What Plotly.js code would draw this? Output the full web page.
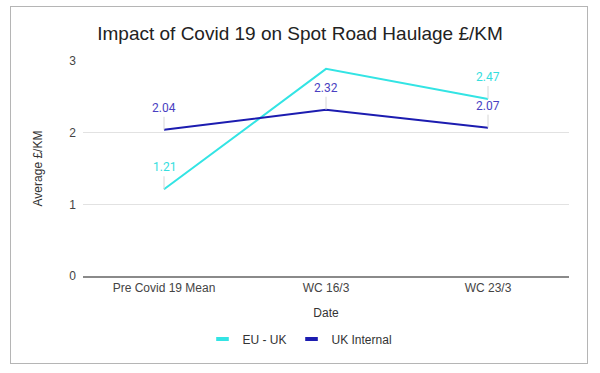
<!DOCTYPE html>
<html>
<head>
<meta charset="utf-8">
<script src="https://cdn.plot.ly/plotly-3.0.1.min.js"></script>
<style>
html,body{margin:0;padding:0;background:#fff;}
#wrap{position:relative;width:600px;height:373px;}
#chart{width:600px;height:373px;}
#frame{position:absolute;left:10px;top:6px;width:576px;height:356px;border:1px solid #b5b5b5;pointer-events:none;}
</style>
</head>
<body>
<div id="wrap"><div id="chart"></div><div id="frame"></div></div>
<script>
const categories = ['Pre Covid 19 Mean', 'WC 16/3', 'WC 23/3'];
const euUk = [1.21, 2.89, 2.47];
const euUkLabels = ['1.21', '', '2.47'];
const ukInternal = [2.04, 2.32, 2.07];
const ukInternalLabels = ['2.04', '2.32', '2.07'];
const seriesNames = ['EU - UK', 'UK Internal'];
const yTicks = [0, 1, 2, 3];

const cyan = '#33e4e4';
const navy = '#1c1cb0';

const traces = [
  {x: categories, y: euUk, name: seriesNames[0], type: 'scatter', mode: 'lines',
   line: {color: cyan, width: 2}, showlegend: false},
  {x: categories, y: ukInternal, name: seriesNames[1], type: 'scatter', mode: 'lines',
   line: {color: navy, width: 2}, showlegend: false},
  // legend-only entries with short thick swatches
  {x: [null], y: [null], name: seriesNames[0], type: 'scatter', mode: 'markers',
   marker: {symbol: 'line-ew', size: 9, color: cyan, line: {color: cyan, width: 4}}},
  {x: [null], y: [null], name: seriesNames[1], type: 'scatter', mode: 'markers',
   marker: {symbol: 'line-ew', size: 9, color: navy, line: {color: navy, width: 4}}}
];

function labelAnns(ys, labels, color) {
  const out = [];
  ys.forEach((v, i) => {
    if (!labels[i]) return;
    out.push({
      x: categories[i], y: v, xref: 'x', yref: 'y',
      text: labels[i],
      showarrow: true, arrowhead: 0, arrowwidth: 1, arrowcolor: '#d6d6d6',
      ax: 0, ay: -13, standoff: 0, yanchor: 'bottom',
      font: {family: 'Roboto, Arial, sans-serif', size: 12, color: color}
    });
  });
  return out;
}

const annotations = [].concat(
  labelAnns(euUk, euUkLabels, '#36dede'),
  labelAnns(ukInternal, ukInternalLabels, '#4a3fc2')
);

const layout = {
  width: 600, height: 373,
  margin: {l: 83, r: 31, t: 61, b: 97},
  paper_bgcolor: '#ffffff', plot_bgcolor: '#ffffff',
  font: {family: 'Arial, "Liberation Sans", sans-serif', size: 12, color: '#444'},
  title: {text: 'Impact of Covid 19 on Spot Road Haulage £/KM',
          font: {family: 'Arial, "Liberation Sans", sans-serif', size: 19, color: '#222'},
          x: 0.5, xref: 'container', xanchor: 'center',
          y: 1 - 33/373, yref: 'container', yanchor: 'middle'},
  xaxis: {type: 'category', range: [-0.5, 2.5], showgrid: false, zeroline: false,
          showline: true, linecolor: '#8a8a8a', linewidth: 1.5,
          ticks: '', tickfont: {size: 12, color: '#444'},
          title: {text: 'Date', font: {size: 12, color: '#333'}, standoff: 14}},
  yaxis: {range: [0, 3], tickvals: yTicks, ticktext: yTicks.map(String),
          showgrid: true, gridcolor: '#e2e2e2', gridwidth: 1, zeroline: false,
          showline: false, ticks: '', ticklabelstandoff: 6, tickfont: {size: 12, color: '#444'},
          title: {text: 'Average £/KM', font: {size: 12, color: '#333'}, standoff: 24}},
  showlegend: true,
  legend: {orientation: 'h', xref: 'container', yref: 'container', x: 0.5, xanchor: 'center',
           y: (373 - 339) / 373, yanchor: 'middle', font: {size: 12, color: '#333'},
           itemwidth: 30, tracegroupgap: 0},
  annotations: annotations
};

Plotly.newPlot('chart', traces, layout, {displayModeBar: false, staticPlot: true});
</script>
</body>
</html>
